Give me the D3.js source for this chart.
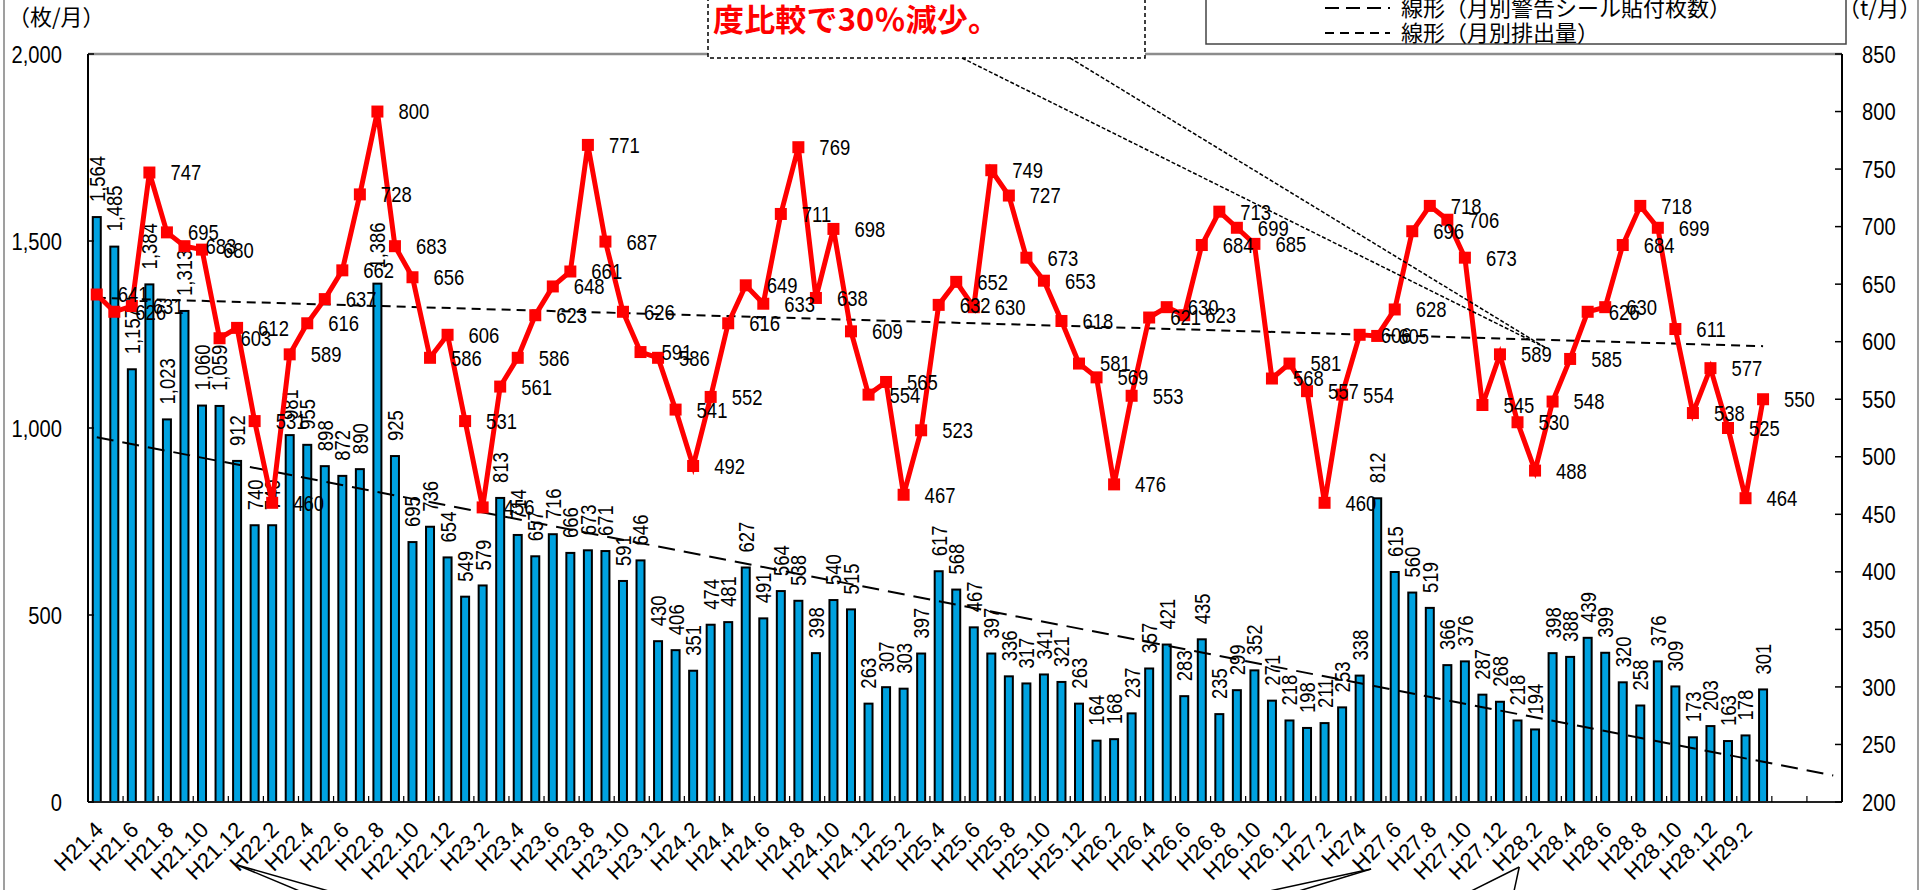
<!DOCTYPE html>
<html><head><meta charset="utf-8">
<script src="https://cdn.jsdelivr.net/npm/d3@7"></script>
<style>
html,body{margin:0;padding:0;background:#fff;overflow:hidden}
svg{display:block}
</style></head><body>
<svg id="c" width="1923" height="890"></svg>
<script>
// ---------------- DATA ----------------
const months = [
 "H21.4","H21.5","H21.6","H21.7","H21.8","H21.9","H21.10","H21.11","H21.12",
 "H22.1","H22.2","H22.3","H22.4","H22.5","H22.6","H22.7","H22.8","H22.9","H22.10","H22.11","H22.12",
 "H23.1","H23.2","H23.3","H23.4","H23.5","H23.6","H23.7","H23.8","H23.9","H23.10","H23.11","H23.12",
 "H24.1","H24.2","H24.3","H24.4","H24.5","H24.6","H24.7","H24.8","H24.9","H24.10","H24.11","H24.12",
 "H25.1","H25.2","H25.3","H25.4","H25.5","H25.6","H25.7","H25.8","H25.9","H25.10","H25.11","H25.12",
 "H26.1","H26.2","H26.3","H26.4","H26.5","H26.6","H26.7","H26.8","H26.9","H26.10","H26.11","H26.12",
 "H27.1","H27.2","H27.3","H274","H27.5","H27.6","H27.7","H27.8","H27.9","H27.10","H27.11","H27.12",
 "H28.1","H28.2","H28.3","H28.4","H28.5","H28.6","H28.7","H28.8","H28.9","H28.10","H28.11","H28.12",
 "H29.1","H29.2","H29.3"
];
// 月別警告シール貼付枚数 (枚/月) - bars, left axis
const stickers = [
 1564,1485,1157,1384,1023,1313,1060,1059,912,
 740,740,981,955,898,872,890,1386,925,695,736,654,
 549,579,813,714,657,716,666,673,671,591,646,430,
 406,351,474,481,627,491,564,538,398,540,515,263,
 307,303,397,617,568,467,397,336,317,341,321,263,
 164,168,237,357,421,283,435,235,299,352,271,218,
 198,211,253,338,812,615,560,519,366,376,287,268,
 218,194,398,388,439,399,320,258,376,309,173,203,
 163,178,301
];
// 月別排出量 (t/月) - red line, right axis
const waste = [
 641,626,631,747,695,683,680,603,612,
 531,460,589,616,637,662,728,800,683,656,586,606,
 531,456,561,586,623,648,661,771,687,626,591,586,
 541,492,552,616,649,633,711,769,638,698,609,554,
 565,467,523,632,652,630,749,727,673,653,618,581,
 569,476,553,621,630,623,684,713,699,685,568,581,
 557,460,554,606,605,628,696,718,706,673,545,589,
 530,488,548,585,626,630,684,718,699,611,538,577,
 525,464,550
];
const forecastPeriods = 4;           // empty category slots after the data (trend forecast)
const leftTicks  = [0,500,1000,1500,2000];
const rightTicks = [200,250,300,350,400,450,500,550,600,650,700,750,800,850];
const legendLabels = ["線形（月別警告シール貼付枚数）","線形（月別排出量）"];
const leftTitle = "（枚/月）";
const rightTitle = "（t/月）";
const calloutText = "度比較で30％減少。";

// ---------------- LAYOUT ----------------
const plot = {l:88, r:1842, t:54, b:802};
const svg = d3.select("#c");
const NUM = "'Liberation Sans', Arial, sans-serif";
const JP = "'Noto Sans CJK JP', 'Noto Sans', sans-serif";
const SX = 0.84; // horizontal squeeze for the narrow numeric look

const nCat = months.length + forecastPeriods;
const x = d3.scaleBand().domain(d3.range(nCat)).range([plot.l, plot.r]).paddingInner(0).paddingOuter(0);
const xc = d3.scaleLinear().domain([-0.5, nCat - 0.5]).range([plot.l, plot.r]); // category centers (fractional)
const yL = d3.scaleLinear().domain([0, 2000]).range([plot.b, plot.t]);
const yR = d3.scaleLinear().domain([200, 850]).range([plot.b, plot.t]);
const fmt = d3.format(",");

// outer chart border
svg.append("line").attr("x1",4).attr("x2",4).attr("y1",0).attr("y2",890).attr("stroke","#7f7f7f").attr("stroke-width",1.5);
svg.append("line").attr("x1",1918).attr("x2",1918).attr("y1",0).attr("y2",890).attr("stroke","#7f7f7f").attr("stroke-width",1.5);

// plot top border
svg.append("line").attr("x1",plot.l).attr("x2",plot.r).attr("y1",plot.t).attr("y2",plot.t)
  .attr("stroke","#8c8c8c").attr("stroke-width",2.5);

// bars
const barW = 8;
svg.append("g").selectAll("rect").data(stickers).join("rect")
  .attr("x",(d,i)=>x(i)+x.bandwidth()/2-barW/2)
  .attr("y",d=>yL(d))
  .attr("width",barW)
  .attr("height",d=>yL(0)-yL(d))
  .attr("fill","#00a2e0").attr("stroke","#000").attr("stroke-width",2);

// bar labels (rotated)
svg.append("g").selectAll("text").data(stickers).join("text")
  .attr("transform",(d,i)=>`translate(${x(i)+x.bandwidth()/2},${yL(d)-15}) rotate(-90) scale(${SX},1)`)
  .attr("dy","0.36em")
  .attr("font-family",NUM).attr("font-size",22).attr("fill","#000")
  .text(d=>fmt(d));

// linear trend helper (least squares on category index)
function trend(vals){
  const n = vals.length, xs = d3.range(n);
  const mx = d3.mean(xs), my = d3.mean(vals);
  let sxy=0, sxx=0;
  xs.forEach((xi,k)=>{ sxy += (xi-mx)*(vals[k]-my); sxx += (xi-mx)*(xi-mx); });
  const b = sxy/sxx, a = my - b*mx;
  return t => a + b*t;
}
const tS = trend(stickers), tW = trend(waste);

// sticker trend (long dash, forecast forward)
svg.append("line")
  .attr("x1",xc(0)).attr("y1",yL(tS(0)))
  .attr("x2",xc(nCat-1)).attr("y2",yL(tS(nCat-1)))
  .attr("stroke","#000").attr("stroke-width",2).attr("stroke-dasharray","17,9");

// waste trend (short dash)
svg.append("line")
  .attr("x1",xc(0)).attr("y1",yR(tW(0)))
  .attr("x2",xc(waste.length-1)).attr("y2",yR(tW(waste.length-1)))
  .attr("stroke","#000").attr("stroke-width",2).attr("stroke-dasharray","9,6");

// red line
const line = d3.line().x((d,i)=>xc(i)).y(d=>yR(d));
svg.append("path").datum(waste).attr("d",line)
  .attr("fill","none").attr("stroke","#ff0000").attr("stroke-width",5).attr("stroke-linejoin","miter");
svg.append("g").selectAll("rect").data(waste).join("rect")
  .attr("x",(d,i)=>xc(i)-6).attr("y",d=>yR(d)-6)
  .attr("width",12).attr("height",12).attr("fill","#ff0000");
svg.append("g").selectAll("text").data(waste).join("text")
  .attr("transform",(d,i)=>`translate(${xc(i)+21},${yR(d)}) scale(${SX},1)`)
  .attr("dy","0.36em")
  .attr("font-family",NUM).attr("font-size",22).attr("fill","#000")
  .text(d=>d);

// axes lines
svg.append("line").attr("x1",plot.l).attr("x2",plot.l).attr("y1",plot.t).attr("y2",plot.b).attr("stroke","#000").attr("stroke-width",2);
svg.append("line").attr("x1",plot.r).attr("x2",plot.r).attr("y1",plot.t).attr("y2",plot.b).attr("stroke","#000").attr("stroke-width",2);
svg.append("line").attr("x1",plot.l).attr("x2",plot.r).attr("y1",plot.b).attr("y2",plot.b).attr("stroke","#222").attr("stroke-width",2);

// left ticks
const gL = svg.append("g");
gL.selectAll("line").data(leftTicks).join("line")
  .attr("x1",plot.l).attr("x2",plot.l+6).attr("y1",d=>yL(d)).attr("y2",d=>yL(d)).attr("stroke","#000").attr("stroke-width",1.5);
gL.selectAll("text").data(leftTicks).join("text")
  .attr("transform",d=>`translate(${plot.l-26},${yL(d)}) scale(${SX},1)`)
  .attr("dy","0.36em").attr("text-anchor","end")
  .attr("font-family",NUM).attr("font-size",24).text(d=>fmt(d));

// right ticks
const gR = svg.append("g");
gR.selectAll("line").data(rightTicks).join("line")
  .attr("x1",plot.r-7).attr("x2",plot.r).attr("y1",d=>yR(d)).attr("y2",d=>yR(d)).attr("stroke","#000").attr("stroke-width",1.5);
gR.selectAll("text").data(rightTicks).join("text")
  .attr("transform",d=>`translate(${plot.r+20},${yR(d)}) scale(${SX},1)`)
  .attr("dy","0.36em").attr("text-anchor","start")
  .attr("font-family",NUM).attr("font-size",24).text(d=>d);

// x ticks (every 2 categories) and labels
const tickIdx = d3.range(0, nCat+1, 2);
svg.append("g").selectAll("line").data(tickIdx).join("line")
  .attr("x1",d=>xc(d-0.5)).attr("x2",d=>xc(d-0.5)).attr("y1",plot.b).attr("y2",plot.b-6)
  .attr("stroke","#000").attr("stroke-width",1.2);
svg.append("g").selectAll("text").data(months.filter((m,i)=>i%2===0)).join("text")
  .attr("transform",(d,k)=>`translate(${xc(k*2)+8},${plot.b+29}) rotate(-45)`)
  .attr("text-anchor","end")
  .attr("font-family",NUM).attr("font-size",22).text(d=>d);

// axis titles
svg.append("text").attr("x",8).attr("y",17).attr("dy","0.36em").attr("font-family",JP).attr("font-size",22).text(leftTitle);
svg.append("text").attr("x",1838).attr("y",8).attr("dy","0.36em").attr("font-family",JP).attr("font-size",22).text(rightTitle);

// callout pointer lines (to the trend area)
const calloutTip = {cat: 82.57, value: 595};
[962, 1070].forEach(sx=>{
  svg.append("line").attr("x1",sx).attr("y1",58).attr("x2",xc(calloutTip.cat)).attr("y2",yR(calloutTip.value))
    .attr("stroke","#000").attr("stroke-width",1.5).attr("stroke-dasharray","4,2");
});

// callout box
svg.append("rect").attr("x",708).attr("y",-40).attr("width",437).attr("height",98)
  .attr("fill","#fff").attr("stroke","#000").attr("stroke-width",1.5).attr("stroke-dasharray","4,3");
svg.append("text").attr("x",713).attr("y",20).attr("dy","0.36em")
  .attr("font-family",JP).attr("font-weight","bold").attr("font-size",31).attr("fill","#ff0000")
  .attr("textLength",286).attr("lengthAdjust","spacing").text(calloutText);

// legend box
svg.append("rect").attr("x",1206).attr("y",-10).attr("width",640).attr("height",54)
  .attr("fill","#fff").attr("stroke","#444").attr("stroke-width",1.5);
const legY = [8, 33];
svg.append("line").attr("x1",1325).attr("x2",1390).attr("y1",legY[0]).attr("y2",legY[0])
  .attr("stroke","#000").attr("stroke-width",2).attr("stroke-dasharray","14,7");
svg.append("line").attr("x1",1325).attr("x2",1390).attr("y1",legY[1]).attr("y2",legY[1])
  .attr("stroke","#000").attr("stroke-width",2).attr("stroke-dasharray","9,6");
legendLabels.forEach((t,k)=>{
  svg.append("text").attr("x",1401).attr("y",legY[k]).attr("dy","0.36em")
    .attr("font-family",JP).attr("font-size",22).text(t);
});

// bottom callout pointer lines (to a box below the visible area)
const bottomPointers = [
  {cat: 8.0,  off: 63, ends: [[60,25],[88,25]]},
  {cat: 72.65, off: 67, ends: [[-97,21],[-69,21]]},
  {cat: 81.1, off: 65, ends: [[-46,23],[-5,23]]}
];
bottomPointers.forEach(p=>{
  const ax = xc(p.cat), ay = plot.b + p.off;
  p.ends.forEach(e=>{
    svg.append("line").attr("x1",ax).attr("y1",ay).attr("x2",ax+e[0]*1.4).attr("y2",ay+e[1]*1.4)
      .attr("stroke","#000").attr("stroke-width",1.5);
  });
});
</script>
</body></html>
